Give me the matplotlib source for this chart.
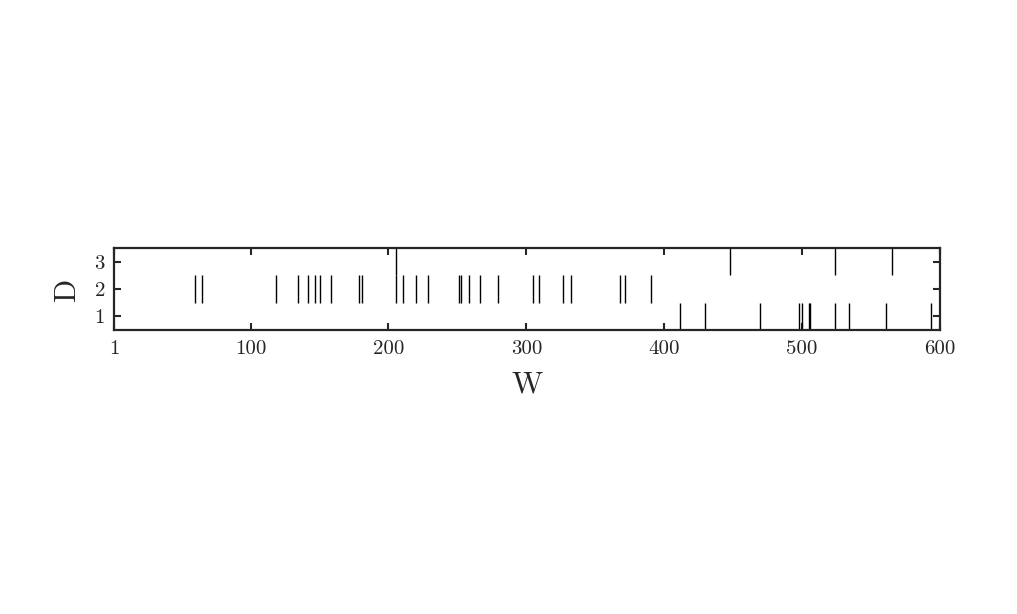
import matplotlib
matplotlib.use("Agg")
import matplotlib.pyplot as plt

plt.rcParams['font.family'] = ['cmr10', 'DejaVu Serif']
plt.rcParams['axes.formatter.use_mathtext'] = True

row1_events = [411.7, 429.9, 469.2, 498.0, 499.7, 504.8, 505.7, 523.9, 533.9, 560.9, 593.2]
row2_events = [59.7, 64.8, 118.8, 134.5, 141.8, 146.6, 150.5, 158.0, 178.6, 180.6,
               205.5, 210.9, 219.8, 228.8, 251.3, 252.3, 258.6, 266.6, 279.6,
               304.7, 309.1, 326.7, 332.5, 368.1, 371.2, 390.6]
row3_events = [205.5, 447.9, 523.9, 565.1]
rows = [1, 2, 3]
x_ticks = [1, 100, 200, 300, 400, 500, 600]
y_ticks = [1, 2, 3]

fig = plt.figure(figsize=(10.17, 6.14), dpi=100)
ax = fig.add_axes([0.1121, 0.4625, 0.8122, 0.1336])
ax.eventplot([row1_events, row2_events, row3_events], lineoffsets=rows,
             linelengths=1, colors='black', linewidths=1.0)
ax.set_xlim(1, 600)
ax.set_ylim(0.5, 3.5)
ax.set_xticks(x_ticks)
ax.set_xticklabels([str(t) for t in x_ticks])
ax.set_yticks(y_ticks)
ax.set_yticklabels([str(t) for t in y_ticks])
ax.tick_params(direction='in', top=True, right=True, length=5, width=1.5,
               labelsize=15, colors='#262626', labelcolor='#262626')
ax.tick_params(axis='x', pad=7)
ax.tick_params(axis='y', pad=6.5)
for s in ax.spines.values():
    s.set_linewidth(1.6)
    s.set_color('#262626')
ax.set_xlabel('W', fontsize=22, color='#262626', labelpad=10)
ax.set_ylabel('D', fontsize=22, color='#262626', labelpad=10)
fig.savefig('out.png', dpi=100)
